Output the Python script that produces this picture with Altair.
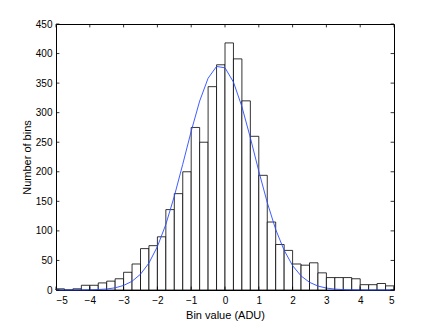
import altair as alt
import pandas as pd

# Histogram bins (left edges, width 0.25) and counts
bin_left = [-5.0, -4.75, -4.5, -4.25, -4.0, -3.75, -3.5, -3.25, -3.0, -2.75,
            -2.5, -2.25, -2.0, -1.75, -1.5, -1.25, -1.0, -0.75, -0.5, -0.25,
            0.0, 0.25, 0.5, 0.75, 1.0, 1.25, 1.5, 1.75, 2.0, 2.25,
            2.5, 2.75, 3.0, 3.25, 3.5, 3.75, 4.0, 4.25, 4.5, 4.75]
bin_width = 0.25
counts = [2, 0, 2, 8, 8, 12, 15, 19, 30, 44,
          70, 75, 90, 136, 163, 200, 275, 250, 344, 381,
          418, 391, 320, 260, 194, 115, 77, 67, 44, 42,
          46, 29, 21, 21, 21, 19, 9, 9, 11, 7]

fit_x = [-5.0, -4.75, -4.5, -4.25, -4.0, -3.75, -3.5, -3.25, -3.0, -2.75,
         -2.5, -2.25, -2.0, -1.75, -1.5, -1.25, -1.0, -0.75, -0.5, -0.25,
         0.0, 0.25, 0.5, 0.75, 1.0, 1.25, 1.5, 1.75, 2.0, 2.25,
         2.5, 2.75, 3.0, 3.25, 3.5, 3.75, 4.0, 4.25, 4.5, 4.75, 5.0]
fit_y = [0, 0, 0, 0.1, 0.3, 0.8, 1.7, 3.7, 7.7, 14.7,
         26.7, 45.6, 73.5, 111, 158.6, 212.8, 268.6, 319.6, 358.3, 378.2,
         375.9, 351.8, 310.2, 257.6, 201, 148, 102.4, 67.1, 41.2, 23.8,
         13, 6.7, 3.2, 1.5, 0.6, 0.25, 0.1, 0, 0, 0, 0]

x_ticks = [-5, -4, -3, -2, -1, 0, 1, 2, 3, 4, 5]
y_ticks = [0, 50, 100, 150, 200, 250, 300, 350, 400, 450]

W, H = 338, 266
TL = 3.4  # inward tick length (px)

bars_df = pd.DataFrame({
    "left": bin_left,
    "right": [b + bin_width for b in bin_left],
    "count": counts,
})
fit_df = pd.DataFrame({"x": fit_x, "y": fit_y})
xt_df = pd.DataFrame({"t": x_ticks})
yt_df = pd.DataFrame({"t": y_ticks})

xs = alt.Scale(domain=[-5, 5], nice=False, zero=False)
ys = alt.Scale(domain=[0, 450], nice=False)
xax = alt.Axis(values=x_ticks, title="Bin value (ADU)", format="d",
               labelOverlap=False, labelPadding=5, titlePadding=4)
yax = alt.Axis(values=y_ticks, title="Number of bins", format="d",
               labelOverlap=False, labelPadding=4, titlePadding=3)

bars = alt.Chart(bars_df).mark_bar(
    fill="white", stroke="black", strokeWidth=0.8
).encode(
    x=alt.X("left:Q", scale=xs, axis=xax),
    x2="right:Q",
    y=alt.Y("count:Q", scale=ys, axis=yax),
    y2=alt.datum(0),
)

line = alt.Chart(fit_df).mark_line(color="#2a4bff", strokeWidth=0.9).encode(
    x=alt.X("x:Q", scale=xs, axis=xax),
    y=alt.Y("y:Q", scale=ys, axis=yax),
)

tick_style = dict(color="black", strokeWidth=0.8)
t_bottom = alt.Chart(xt_df).mark_rule(**tick_style).encode(
    x=alt.X("t:Q", scale=xs, axis=xax), y=alt.value(H), y2=alt.value(H - TL))
t_top = alt.Chart(xt_df).mark_rule(**tick_style).encode(
    x=alt.X("t:Q", scale=xs, axis=xax), y=alt.value(0), y2=alt.value(TL))
t_left = alt.Chart(yt_df).mark_rule(**tick_style).encode(
    y=alt.Y("t:Q", scale=ys, axis=yax), x=alt.value(0), x2=alt.value(TL))
t_right = alt.Chart(yt_df).mark_rule(**tick_style).encode(
    y=alt.Y("t:Q", scale=ys, axis=yax), x=alt.value(W), x2=alt.value(W - TL))

chart = alt.layer(bars, line, t_bottom, t_top, t_left, t_right).properties(
    width=W, height=H,
    autosize=alt.AutoSizeParams(type="none"),
    padding={"left": 48, "top": 16, "right": 12, "bottom": 36},
    background="white",
).configure_view(
    stroke="black", strokeWidth=1
).configure_axis(
    domain=False, ticks=False, grid=False,
    labelFont="Liberation Sans", labelFontSize=10, labelColor="black",
    titleFont="Liberation Sans", titleFontSize=11, titleFontWeight="normal",
    titleColor="black",
)

chart.save("out.html", embed_options={"renderer": "svg", "actions": False})
